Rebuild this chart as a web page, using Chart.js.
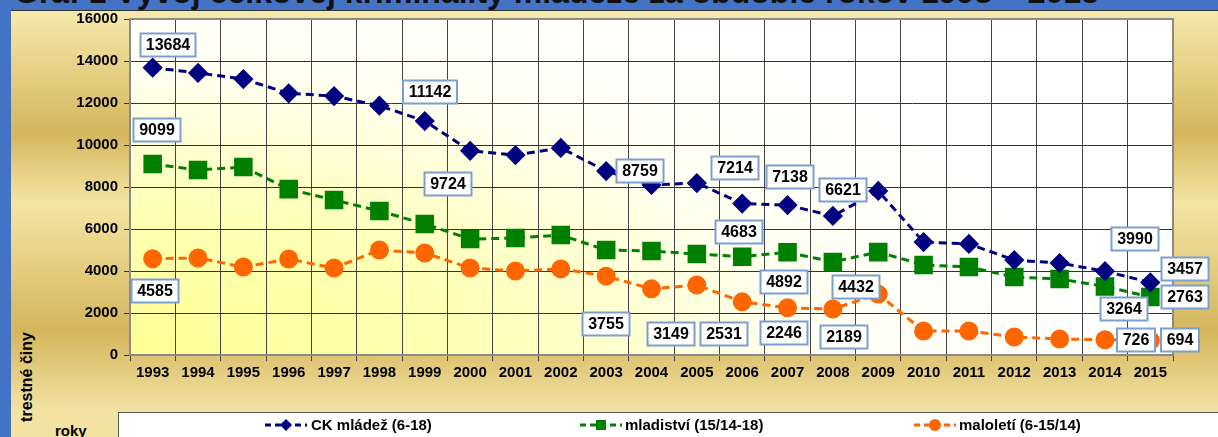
<!DOCTYPE html>
<html lang="sk">
<head>
    <meta charset="UTF-8">
    <title>Graf 1 Vývoj celkovej kriminality mládeže</title>
    <script src="https://cdn.jsdelivr.net/npm/chart.js"></script>
    <style>
        html, body {
            margin: 0;
            padding: 0;
        }
        body {
            width: 1218px;
            height: 437px;
            overflow: hidden;
            position: relative;
            background: #4472c4;
            font-family: Arial, "Liberation Sans", sans-serif;
        }
        #title {
            position: absolute;
            left: 14px;
            top: -24px;
            font-size: 32px;
            line-height: 32px;
            font-weight: bold;
            color: #111;
            white-space: nowrap;
        }
        #panel {
            position: absolute;
            left: 11px;
            top: 10px;
            width: 1207px;
            height: 427px;
            border-top: 1px solid #333;
            background: linear-gradient(to bottom,
                #f5e9ab 0px, #d5b65d 122px, #f3e5a3 192px,
                #d5b65d 320px, #f2e3a3 400px, #f2e3a3 427px);
        }
        #chart-container {
            position: absolute;
            left: 0;
            top: 0;
            width: 1218px;
            height: 437px;
        }
        .axis-title {
            position: absolute;
            font-weight: bold;
            color: #000;
            white-space: nowrap;
        }
        #ytitle {
            left: 27px;
            top: 377px;
            font-size: 16px;
            transform: translate(-50%, -50%) rotate(-90deg);
        }
        #xtitle {
            left: 55px;
            top: 422px;
            font-size: 15px;
        }
    </style>
</head>
<body>
    <div id="title">Graf 1 Vývoj celkovej kriminality mládeže za obdobie rokov 1993 – 2015</div>
    <div id="panel"></div>
    <div class="axis-title" id="ytitle">trestné činy</div>
    <div class="axis-title" id="xtitle">roky</div>
    <div id="chart-container">
        <canvas id="crimeChart" width="1218" height="437"></canvas>
    </div>

    <script>
        // data
        const years = ['1993', '1994', '1995', '1996', '1997', '1998', '1999', '2000', '2001', '2002', '2003', '2004',
            '2005', '2006', '2007', '2008', '2009', '2010', '2011', '2012', '2013', '2014', '2015'];
        const ckMladez = [13684, 13430, 13140, 12460, 12330, 11870, 11142, 9724, 9520, 9860, 8759, 8100,
            8190, 7214, 7138, 6621, 7810, 5380, 5290, 4520, 4380, 3990, 3457];
        const mladistvi = [9099, 8810, 8950, 7900, 7380, 6860, 6240, 5520, 5570, 5710, 5000, 4950,
            4810, 4683, 4892, 4432, 4900, 4290, 4190, 3710, 3620, 3264, 2763];
        const maloleti = [4585, 4620, 4190, 4570, 4140, 5000, 4860, 4140, 4000, 4100, 3755, 3149,
            3330, 2531, 2246, 2189, 2900, 1140, 1140, 860, 760, 726, 694];
        const yTicks = [0, 2000, 4000, 6000, 8000, 10000, 12000, 14000, 16000];

        // which points get a value box, and where the box sits relative to the point [index, dx, dy]
        const ckBoxes = [[0, 15, -23], [6, 5, -29], [7, -22, 33], [10, 34, 0], [13, -7, -36],
            [14, 2, -28], [15, 10, -26], [21, 30, -32], [22, 35, -13]];
        const mlBoxes = [[0, 4, -34], [13, -3, -25], [14, -4, 30], [15, 23, 25], [21, 19, 23], [22, 35, 0]];
        const maBoxes = [[0, 2, 32], [10, 0, 48], [11, 19, 45], [13, -18, 32], [14, -4, 25],
            [15, 11, 28], [21, 31, 0], [22, 30, 0]];

        function drawMarker(ctx, style, x, y, r, color) {
            ctx.fillStyle = color;
            ctx.beginPath();
            if (style === 'rectRot') {
                ctx.moveTo(x, y - r);
                ctx.lineTo(x + r, y);
                ctx.lineTo(x, y + r);
                ctx.lineTo(x - r, y);
                ctx.closePath();
            } else if (style === 'rect') {
                ctx.rect(x - r, y - r, 2 * r, 2 * r);
            } else {
                ctx.arc(x, y, r, 0, Math.PI * 2);
            }
            ctx.fill();
        }

        // plot area fill: yellow in the lower left, fading to white
        const plotBackground = {
            id: 'plotBackground',
            beforeDraw(chart) {
                const { ctx, chartArea: a } = chart;
                ctx.save();
                ctx.beginPath();
                ctx.rect(a.left, a.top, a.right - a.left, a.bottom - a.top);
                ctx.clip();
                ctx.fillStyle = '#fff';
                ctx.fillRect(a.left, a.top, a.right - a.left, a.bottom - a.top);
                ctx.translate(a.left, a.bottom);
                ctx.scale(1, 0.42);
                const g = ctx.createRadialGradient(0, 0, 0, 0, 0, 950);
                g.addColorStop(0, '#ffff94');
                g.addColorStop(0.35, '#ffffb4');
                g.addColorStop(0.7, '#fffff0');
                g.addColorStop(1, '#ffffff');
                ctx.fillStyle = g;
                ctx.fillRect(0, -1000, 1100, 1000);
                ctx.restore();
            },
            beforeDatasetsDraw(chart) {
                const { ctx, chartArea: a } = chart;
                ctx.save();
                ctx.strokeStyle = '#8a8a8a';
                ctx.lineWidth = 2;
                ctx.strokeRect(a.left, a.top, a.right - a.left, a.bottom - a.top);
                ctx.restore();
            }
        };

        // white value boxes with a light blue frame
        const valueBoxes = {
            id: 'valueBoxes',
            afterDatasetsDraw(chart) {
                const ctx = chart.ctx;
                ctx.save();
                ctx.font = 'bold 16px Arial, "Liberation Sans", sans-serif';
                ctx.textAlign = 'center';
                ctx.textBaseline = 'middle';
                chart.data.datasets.forEach((ds, di) => {
                    const meta = chart.getDatasetMeta(di);
                    ds.boxes.forEach(([i, dx, dy]) => {
                        const pt = meta.data[i];
                        const cx = Math.round(pt.x + dx), cy = Math.round(pt.y + dy);
                        const text = String(ds.data[i]);
                        const w = Math.round(ctx.measureText(text).width + 11), h = 23;
                        ctx.fillStyle = '#fff';
                        ctx.fillRect(cx - w / 2, cy - h / 2, w, h);
                        ctx.strokeStyle = '#7c9fd1';
                        ctx.lineWidth = 2;
                        ctx.strokeRect(cx - w / 2, cy - h / 2, w, h);
                        ctx.fillStyle = '#000';
                        ctx.fillText(text, cx, cy + 1);
                    });
                });
                ctx.restore();
            }
        };

        // legend box along the bottom
        const legendItems = [
            { ds: 0, x1: 265, x2: 307, tx: 311, r: 6 },
            { ds: 1, x1: 580, x2: 622, tx: 625, r: 5 },
            { ds: 2, x1: 914, x2: 956, tx: 959, r: 6 }
        ];
        const bottomLegend = {
            id: 'bottomLegend',
            afterDraw(chart) {
                const ctx = chart.ctx;
                const y = 425;
                ctx.save();
                ctx.fillStyle = '#fff';
                ctx.fillRect(118, 412, 1110, 40);
                ctx.strokeStyle = '#555';
                ctx.lineWidth = 1;
                ctx.strokeRect(118.5, 412.5, 1110, 40);
                ctx.font = 'bold 15px Arial, "Liberation Sans", sans-serif';
                ctx.textBaseline = 'middle';
                legendItems.forEach(item => {
                    const ds = chart.data.datasets[item.ds];
                    ctx.strokeStyle = ds.borderColor;
                    ctx.lineWidth = 3;
                    ctx.setLineDash([6, 4]);
                    ctx.beginPath();
                    ctx.moveTo(item.x1, y);
                    ctx.lineTo(item.x2, y);
                    ctx.stroke();
                    ctx.setLineDash([]);
                    drawMarker(ctx, ds.pointStyle, (item.x1 + item.x2) / 2, y, item.r, ds.pointBackgroundColor);
                    ctx.fillStyle = '#000';
                    ctx.fillText(ds.label, item.tx, y + 1);
                });
                ctx.restore();
            }
        };

        const tickFont = { family: 'Arial, "Liberation Sans", sans-serif', size: 15, weight: 'bold' };

        const ctx = document.getElementById('crimeChart').getContext('2d');
        const crimeChart = new Chart(ctx, {
            type: 'line',
            data: {
                labels: years,
                datasets: [{
                    label: 'CK mládež (6-18)',
                    data: ckMladez,
                    boxes: ckBoxes,
                    borderColor: '#000080',
                    pointBackgroundColor: '#000080',
                    pointBorderColor: '#000080',
                    pointStyle: 'rectRot',
                    pointRadius: 8,
                    borderWidth: 3,
                    borderDash: [8, 5],
                    tension: 0
                }, {
                    label: 'mladiství (15/14-18)',
                    data: mladistvi,
                    boxes: mlBoxes,
                    borderColor: '#008000',
                    pointBackgroundColor: '#008000',
                    pointBorderColor: '#008000',
                    pointStyle: 'rect',
                    pointRadius: 11,
                    borderWidth: 3,
                    borderDash: [8, 5],
                    tension: 0
                }, {
                    label: 'maloletí (6-15/14)',
                    data: maloleti,
                    boxes: maBoxes,
                    borderColor: '#ff6600',
                    pointBackgroundColor: '#ff6600',
                    pointBorderColor: '#ff6600',
                    pointStyle: 'circle',
                    pointRadius: 8,
                    borderWidth: 3,
                    borderDash: [8, 5],
                    tension: 0
                }]
            },
            options: {
                responsive: false,
                animation: false,
                layout: { padding: { top: 19, right: 45, bottom: 0, left: 0 } },
                plugins: {
                    legend: { display: false },
                    tooltip: { enabled: false }
                },
                scales: {
                    x: {
                        offset: true,
                        grid: { offset: true, color: '#444', lineWidth: 1, tickLength: 6 },
                        border: { color: '#555' },
                        ticks: { font: tickFont, color: '#000', maxRotation: 0, autoSkip: false, padding: 3 },
                        afterFit(scale) {
                            scale.height = 82;
                            scale.paddingLeft = 0;
                            scale.paddingRight = 0;
                        }
                    },
                    y: {
                        min: 0,
                        max: 16000,
                        afterBuildTicks(scale) {
                            scale.ticks = yTicks.map(v => ({ value: v }));
                        },
                        grid: { color: '#333', lineWidth: 1, tickLength: 6 },
                        border: { color: '#555' },
                        ticks: {
                            font: tickFont,
                            color: '#000',
                            padding: 6,
                            callback: v => String(v)
                        },
                        afterFit(scale) {
                            scale.width = 130;
                            scale.paddingTop = 0;
                            scale.paddingBottom = 0;
                        }
                    }
                }
            },
            plugins: [plotBackground, valueBoxes, bottomLegend]
        });
    </script>
</body>
</html>
